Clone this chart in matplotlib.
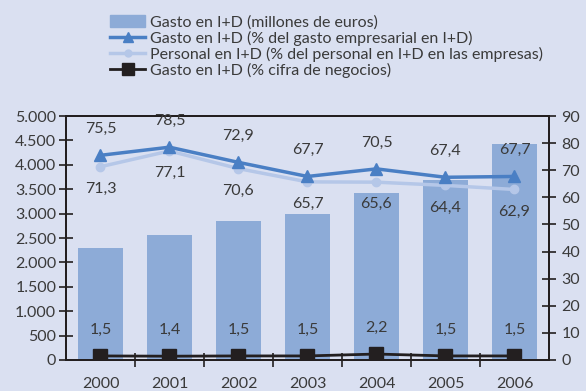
import numpy as np
import matplotlib.pyplot as plt
from matplotlib.lines import Line2D
from matplotlib.patches import Patch
from matplotlib.ticker import FuncFormatter

years = ["2000", "2001", "2002", "2003", "2004", "2005", "2006"]
gasto_meur = [2300, 2560, 2850, 3000, 3420, 3690, 4430]
pct_gasto_empresarial = [75.5, 78.5, 72.9, 67.7, 70.5, 67.4, 67.7]
pct_personal = [71.3, 77.1, 70.6, 65.7, 65.6, 64.4, 62.9]
pct_cifra_negocios = [1.5, 1.4, 1.5, 1.5, 2.2, 1.5, 1.5]

bg = "#dae0f1"
bar_col = "#8dabd7"
blue = "#4a7fc4"
light = "#b5c7e8"
black = "#231f20"
txt = "#3a3a3a"

plt.rcParams["font.family"] = ["Lato", "DejaVu Sans"]

fig = plt.figure(figsize=(5.86, 3.91), dpi=100, facecolor=bg)
ax = fig.add_axes([0.1126, 0.0793, 0.8242, 0.624])
ax.set_facecolor(bg)
ax2 = ax.twinx()

x = np.arange(len(years))
ax.bar(x, gasto_meur, width=0.64, color=bar_col, zorder=1)
ax.set_xlim(-0.5, 6.5)
ax.set_ylim(0, 5000)
ax.set_yticks(np.arange(0, 5001, 500))
ax.yaxis.set_major_formatter(FuncFormatter(lambda v, p: f"{int(v):,}".replace(",", ".")))
ax.set_xticks(x, years)
ax.set_xticks(np.arange(0.5, 6, 1), minor=True)
ax.tick_params(axis="x", which="major", length=0, pad=12, labelsize=11.5, labelcolor=txt)
ax.tick_params(axis="x", which="minor", direction="inout", length=10, width=1.2, color=black)
ax.tick_params(axis="y", direction="inout", length=10, width=1.2, color=black,
               labelsize=11.5, labelcolor=txt, pad=2)

ax2.set_ylim(0, 90)
ax2.set_yticks(np.arange(0, 91, 10))
ax2.tick_params(axis="y", direction="inout", length=10, width=1.2, color=black,
                labelsize=11.5, labelcolor=txt, pad=4)

for a in (ax, ax2):
    for s in a.spines.values():
        s.set_color(black)
        s.set_linewidth(1.4)

ax2.plot(x, pct_personal, color=light, lw=2.5, marker="o", ms=6, zorder=3)
ax2.plot(x, pct_gasto_empresarial, color=blue, lw=2.5, marker="^", ms=8, zorder=4)
ax2.plot(x, pct_cifra_negocios, color=black, lw=2, marker="s", ms=9.5, zorder=5)

fmt = lambda v: f"{v:.1f}".replace(".", ",")
for xi, v in zip(x, pct_gasto_empresarial):
    ax2.annotate(fmt(v), (xi, v), xytext=(0, 19), textcoords="offset points",
                 ha="center", va="center", fontsize=11.5, color=txt)
for xi, v in zip(x, pct_personal):
    ax2.annotate(fmt(v), (xi, v), xytext=(0, -16), textcoords="offset points",
                 ha="center", va="center", fontsize=11.5, color=txt)
for xi, v in zip(x, pct_cifra_negocios):
    ax2.annotate(fmt(v), (xi, v), xytext=(0, 19), textcoords="offset points",
                 ha="center", va="center", fontsize=11.5, color=txt)

handles = [
    Patch(color=bar_col),
    Line2D([], [], color=blue, lw=2.5, marker="^", ms=7),
    Line2D([], [], color=light, lw=2.5, marker="o", ms=5),
    Line2D([], [], color=black, lw=2, marker="s", ms=9),
]
labels = [
    "Gasto en I+D (millones de euros)",
    "Gasto en I+D (% del gasto empresarial en I+D)",
    "Personal en I+D (% del personal en I+D en las empresas)",
    "Gasto en I+D (% cifra de negocios)",
]
leg = fig.legend(handles, labels, loc="upper left", bbox_to_anchor=(0.188, 0.962),
                 frameon=False, fontsize=11.5, handlelength=2.2, handleheight=0.78,
                 handletextpad=0.3, labelspacing=0.07, borderpad=0, borderaxespad=0)
for t in leg.get_texts():
    t.set_color(txt)

fig.savefig("out.png", dpi=100, facecolor=bg)
